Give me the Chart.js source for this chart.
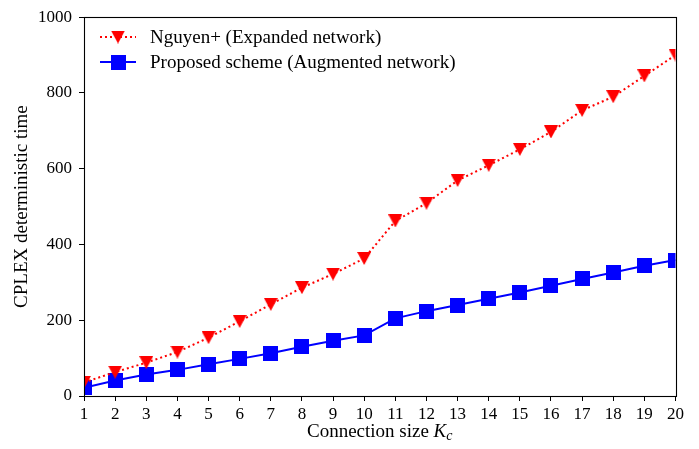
<!DOCTYPE html>
<html>
<head>
<meta charset="utf-8">
<script src="https://cdn.jsdelivr.net/npm/chart.js@4/dist/chart.umd.min.js"></script>
<style>
  html, body { margin: 0; padding: 0; background: #fff; }
  #wrap { width: 699px; height: 449px; }
</style>
</head>
<body>
<div id="wrap"><canvas id="c" width="699" height="449"></canvas></div>
<script>
const categories = [1,2,3,4,5,6,7,8,9,10,11,12,13,14,15,16,17,18,19,20];
const nguyenValues = [36,63,88,116,154,197,242,286,322,363,462,509,569,609,651,697,754,790,845,900];
const proposedValues = [22,41,57,69,84,98,113,130,146,160,205,224,240,257,273,291,309,326,344,359];
const yTicks = [0,200,400,600,800,1000];
const seriesLabels = ['Nguyen+ (Expanded network)', 'Proposed scheme (Augmented network)'];
const yTitle = 'CPLEX deterministic time';
const xTitleMain = 'Connection size ';
const xTitleVar = 'K';
const xTitleSub = 'c';

const FONT = "'Liberation Serif', 'DejaVu Serif', serif";
const FS = 17;   // tick labels
const TS = 19;   // legend and axis titles

function makeTriangle(w, h, color) {
  const c = document.createElement('canvas');
  c.width = w; c.height = h;
  const g = c.getContext('2d');
  g.fillStyle = color;
  g.beginPath();
  g.moveTo(0, 0); g.lineTo(w, 0); g.lineTo(w / 2, h); g.closePath();
  g.fill();
  return c;
}
function makeSquare(s, color) {
  const c = document.createElement('canvas');
  c.width = s; c.height = s;
  const g = c.getContext('2d');
  g.fillStyle = color;
  g.fillRect(0, 0, s, s);
  return c;
}
const triImg = makeTriangle(14, 13, '#ff0000');
const sqImg = makeSquare(15, '#0000ff');

const framePlugin = {
  id: 'frame',
  afterDatasetsDraw(chart) {
    const a = chart.chartArea, ctx = chart.ctx;
    ctx.save();
    ctx.strokeStyle = '#000';
    ctx.lineWidth = 1.1;
    ctx.strokeRect(Math.round(a.left) + 0.5, Math.round(a.top) + 0.5,
                   Math.round(a.right) - Math.round(a.left), Math.round(a.bottom) - Math.round(a.top));
    ctx.restore();
  },
  afterDraw(chart) {
    const ctx = chart.ctx, a = chart.chartArea;
    ctx.save();
    // legend
    const rows = [37, 62];
    chart.data.datasets.forEach((ds, i) => {
      const y = rows[i];
      ctx.strokeStyle = ds.borderColor;
      ctx.lineWidth = ds.borderWidth;
      ctx.setLineDash(ds.borderDash || []);
      ctx.beginPath();
      ctx.moveTo(100, y); ctx.lineTo(136, y);
      ctx.stroke();
      ctx.setLineDash([]);
      const img = ds.pointStyle;
      ctx.drawImage(img, 118 - img.width / 2, y - img.height / 2);
      ctx.fillStyle = '#000';
      ctx.font = TS + 'px ' + FONT;
      ctx.textBaseline = 'middle';
      ctx.textAlign = 'left';
      ctx.fillText(ds.label, 150, y + 1);
    });
    // y title
    ctx.save();
    ctx.translate(22, (a.top + a.bottom) / 2);
    ctx.rotate(-Math.PI / 2);
    ctx.textAlign = 'center';
    ctx.textBaseline = 'middle';
    ctx.font = TS + 'px ' + FONT;
    ctx.fillText(yTitle, 0, 0);
    ctx.restore();
    // x title
    ctx.textBaseline = 'alphabetic';
    ctx.textAlign = 'left';
    const fMain = TS + 'px ' + FONT;
    const fVar = 'italic ' + TS + 'px ' + FONT;
    const fSub = 'italic ' + Math.round(TS * 0.72) + 'px ' + FONT;
    ctx.font = fMain; const w1 = ctx.measureText(xTitleMain).width;
    ctx.font = fVar; const w2 = ctx.measureText(xTitleVar).width;
    ctx.font = fSub; const w3 = ctx.measureText(xTitleSub).width;
    const total = w1 + w2 + w3;
    let x = (a.left + a.right) / 2 - total / 2;
    const base = 437;
    ctx.font = fMain; ctx.fillText(xTitleMain, x, base); x += w1;
    ctx.font = fVar; ctx.fillText(xTitleVar, x, base); x += w2;
    ctx.font = fSub; ctx.fillText(xTitleSub, x, base + 3);
    ctx.restore();
  }
};

new Chart(document.getElementById('c'), {
  type: 'line',
  data: {
    datasets: [
      {
        label: seriesLabels[0],
        data: categories.map((k, i) => ({ x: k, y: nguyenValues[i] })),
        borderColor: '#ff0000',
        backgroundColor: '#ff0000',
        borderWidth: 2,
        borderDash: [2, 3],
        pointStyle: triImg,
        pointRadius: 7,
        pointHoverRadius: 7,
        fill: false,
        tension: 0,
        clip: 0
      },
      {
        label: seriesLabels[1],
        data: categories.map((k, i) => ({ x: k, y: proposedValues[i] })),
        borderColor: '#0000ff',
        backgroundColor: '#0000ff',
        borderWidth: 2,
        pointStyle: sqImg,
        pointRadius: 7,
        pointHoverRadius: 7,
        fill: false,
        tension: 0,
        clip: 0
      }
    ]
  },
  options: {
    responsive: false,
    animation: false,
    devicePixelRatio: 1,
    layout: { padding: { left: 0, right: 23.5, top: 13, bottom: 0 } },
    plugins: { legend: { display: false }, tooltip: { enabled: false }, title: { display: false } },
    scales: {
      x: {
        type: 'linear',
        min: categories[0],
        max: categories[categories.length - 1],
        afterFit(s) { s.height = 53; },
        afterBuildTicks(s) { s.ticks = categories.map(v => ({ value: v })); },
        grid: { drawOnChartArea: false, drawTicks: true, tickLength: 5, color: '#000', tickColor: '#000', lineWidth: 1 },
        border: { display: false },
        ticks: { color: '#000', font: { family: FONT, size: FS }, padding: 3, maxRotation: 0, autoSkip: false,
                 callback: v => String(v) }
      },
      y: {
        type: 'linear',
        min: yTicks[0],
        max: yTicks[yTicks.length - 1],
        afterFit(s) { s.width = 84; },
        afterBuildTicks(s) { s.ticks = yTicks.map(v => ({ value: v })); },
        grid: { drawOnChartArea: false, drawTicks: true, tickLength: 5, color: '#000', tickColor: '#000', lineWidth: 1 },
        border: { display: false },
        ticks: { color: '#000', font: { family: FONT, size: FS }, padding: 7, callback: v => String(v) }
      }
    }
  },
  plugins: [framePlugin]
});
</script>
</body>
</html>
